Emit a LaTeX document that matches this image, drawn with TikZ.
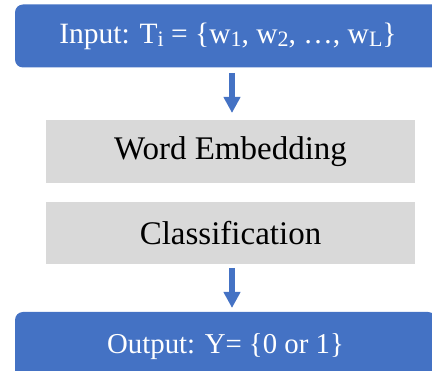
\documentclass[tikz,border=0pt]{standalone}
\usepackage{fontspec}
\setmainfont{Liberation Serif}
\usetikzlibrary{arrows.meta}
\definecolor{officeblue}{HTML}{4472C4}
\definecolor{stepgray}{HTML}{D9D9D9}
% large lowered subscript
\newcommand{\lowsub}[1]{\raisebox{-3pt}{\fontsize{22}{22}\selectfont #1}}
\tikzset{
  bluebox/.style={fill=officeblue, rounded corners=8pt, text=white, inner sep=0pt},
  graybox/.style={fill=stepgray, inner sep=0pt, text=black,
    font=\fontsize{33}{38}\selectfont},
  flow/.style={draw=officeblue, line width=6pt,
    -{Triangle[width=16pt,length=16pt]}, officeblue},
}
\begin{document}
\begin{tikzpicture}[x=1pt,y=-1pt]
  \useasboundingbox (0,0) rectangle (432,371);
  % input and output bars run off the right edge
  \node[bluebox, minimum width=426pt, minimum height=63pt, font=\fontsize{29.5}{34}\selectfont] (inp) at (228,36)
    {Input: T\lowsub{i} = \{w\lowsub{1}, w\lowsub{2}, \dots, w\lowsub{L}\}};
  \node[graybox, minimum width=369pt, minimum height=63pt] (emb) at (230.5,151.5) {Word Embedding};
  \node[graybox, minimum width=369pt, minimum height=62pt] (cls) at (230.5,233) {Classification};
  \node[bluebox, minimum width=421pt, minimum height=70pt, font=\fontsize{28.8}{33}\selectfont] (out) at (225.5,347) {Output: Y= \{0 or 1\}};
  % arrows
  \coordinate (a1s) at (232,73);
  \coordinate (a1e) at (232,113);
  \coordinate (a2s) at (232,268);
  \coordinate (a2e) at (232,308);
  \draw[flow] (a1s) -- (a1e);
  \draw[flow] (a2s) -- (a2e);
\end{tikzpicture}
\end{document}
